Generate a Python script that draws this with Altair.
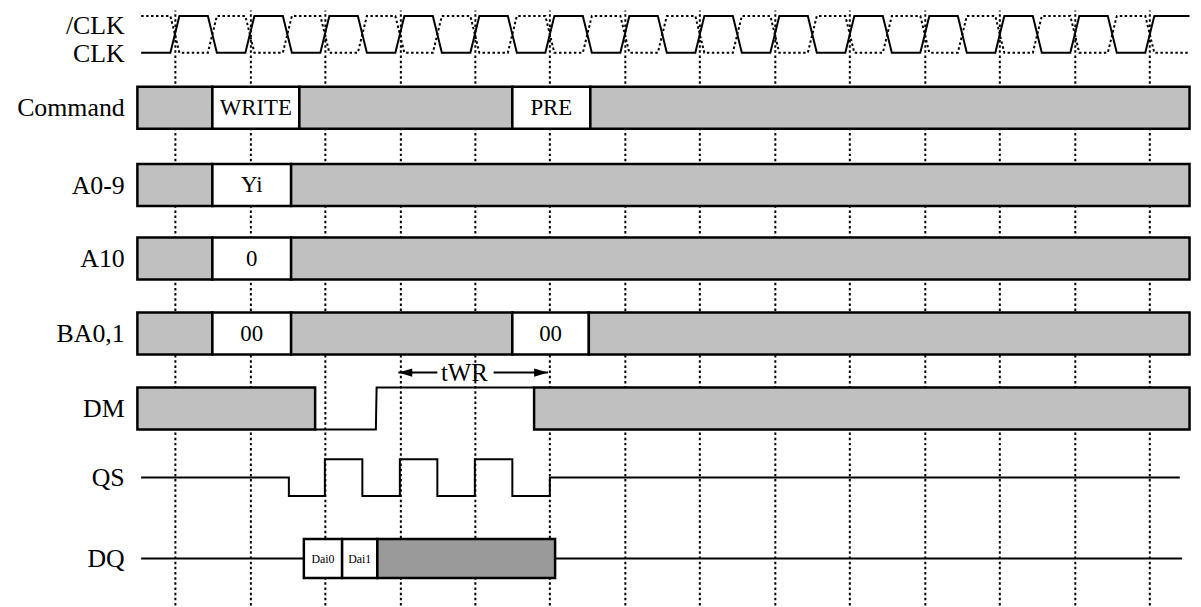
import altair as alt
import pandas as pd

# ---------------- data (time in clock periods, rows in row units) ----------------
ROW_NAMES = ["CLK", "Command", "A0-9", "A10", "BA0,1", "DM", "QS", "DQ"]
ROW_Y = [0.0, 0.98, 2.01, 2.99, 3.99, 4.99, 5.91, 6.99]
ROW = dict(zip(ROW_NAMES, ROW_Y))

LABELS = ["/CLK", "CLK", "Command", "A0-9", "A10", "BA0,1", "DM", "QS", "DQ"]
LABEL_Y = [-0.12, 0.25, 0.98, 2.01, 2.99, 3.99, 4.99, 5.91, 6.99]

CLK_RISE = [0, 1, 2, 3, 4, 5, 6, 7, 8, 9, 10, 11, 12, 13]
CLK_FALL = [0.5, 1.5, 2.5, 3.5, 4.5, 5.5, 6.5, 7.5, 8.5, 9.5, 10.5, 11.5, 12.5]
CLK_START = -0.45
CLK_END = 13.53

BUS_ROW = ["Command"] * 5 + ["A0-9"] * 3 + ["A10"] * 3 + ["BA0,1"] * 5 + ["DM"] * 2
BUS_START = [-0.5, 0.5, 1.66, 4.5, 5.54,
             -0.5, 0.5, 1.55,
             -0.5, 0.5, 1.55,
             -0.5, 0.5, 1.55, 4.5, 5.52,
             -0.5, 4.79]
BUS_END = [0.5, 1.66, 4.5, 5.54, 13.53,
           0.5, 1.55, 13.53,
           0.5, 1.55, 13.53,
           0.5, 1.55, 4.5, 5.52, 13.53,
           1.87, 13.53]
BUS_TEXT = ["", "WRITE", "", "PRE", "",
            "", "Yi", "",
            "", "0", "",
            "", "00", "", "00", "",
            "", ""]

DM_LINE_T = [1.87, 2.68, 2.69, 4.79]
DM_LINE_LEVEL = ["low", "low", "high", "high"]

QS_EDGE_T = [-0.45, 1.52, 2.0, 2.5, 3.0, 3.5, 4.0, 4.5, 5.0]
QS_LEVEL = ["mid", "low", "high", "low", "high", "low", "high", "low", "mid"]
QS_END = 13.4

DQ_LINE_START = [-0.45, 5.07]
DQ_LINE_END = [1.72, 13.43]
DQ_START = [1.72, 2.23, 2.70]
DQ_END = [2.23, 2.70, 5.07]
DQ_TEXT = ["Dai0", "Dai1", ""]
DQ_STATE = ["v", "v", "h"]

TWR_FROM = 2.98
TWR_TO = 4.976
TWR_GAP = [3.5, 4.25]
TWR_Y = 4.51
TWR_TEXT_T = 3.86

# ---------------- styling constants ----------------
BUS_HALF = 0.28
DQ_HALF = 0.26
SWING = 0.245
EDGE = 0.06
FONT = "Liberation Serif"

# ---------------- build tables ----------------
rects = []
for r, a, b, txt in zip(BUS_ROW, BUS_START, BUS_END, BUS_TEXT):
    c = ROW[r]
    rects.append(dict(t0=a, t1=b, y0=c - BUS_HALF, y1=c + BUS_HALF,
                      state="v" if txt else "x", text=txt, tm=(a + b) / 2, yc=c))
for a, b, txt, st in zip(DQ_START, DQ_END, DQ_TEXT, DQ_STATE):
    c = ROW["DQ"]
    rects.append(dict(t0=a, t1=b, y0=c - DQ_HALF, y1=c + DQ_HALF,
                      state=st, text=txt, tm=(a + b) / 2, yc=c))
rect_df = pd.DataFrame(rects)
bus_text_df = rect_df[(rect_df["text"] != "") & (~rect_df["text"].str.startswith("Dai"))]
dq_text_df = rect_df[rect_df["text"].str.startswith("Dai")]

lines = []


def add(series, pts):
    for i, (t, y) in enumerate(pts):
        lines.append(dict(series=series, idx=i, t=t, y=y))


def clock_points(invert):
    hi, lo = ROW["CLK"] - SWING, ROW["CLK"] + SWING
    if invert:
        hi, lo = lo, hi
    pts = [(CLK_START, lo)]
    edges = sorted([(e, "r") for e in CLK_RISE] + [(e, "f") for e in CLK_FALL])
    level = lo
    for e, kind in edges:
        new = hi if kind == "r" else lo
        pts.append((e - EDGE, level))
        pts.append((e + EDGE, new))
        level = new
    pts.append((CLK_END, level))
    return pts


clk_df = pd.DataFrame([dict(series="CLK", idx=i, t=t, y=y)
                       for i, (t, y) in enumerate(clock_points(False))])
nclk_df = pd.DataFrame([dict(series="/CLK", idx=i, t=t, y=y)
                        for i, (t, y) in enumerate(clock_points(True))])

lvl = {"high": -SWING, "low": SWING, "mid": 0.0}
qs_pts = []
for i, (t, l) in enumerate(zip(QS_EDGE_T, QS_LEVEL)):
    y = ROW["QS"] + lvl[l]
    if i > 0:
        qs_pts.append((t, qs_pts[-1][1]))
    qs_pts.append((t, y))
qs_pts.append((QS_END, qs_pts[-1][1]))
add("QS", qs_pts)

dm_lvl = {"high": ROW["DM"] - BUS_HALF, "low": ROW["DM"] + BUS_HALF}
add("DM", [(t, dm_lvl[l]) for t, l in zip(DM_LINE_T, DM_LINE_LEVEL)])

for k, (a, b) in enumerate(zip(DQ_LINE_START, DQ_LINE_END)):
    add(f"DQ{k}", [(a, ROW["DQ"]), (b, ROW["DQ"])])

add("tWR_l", [(TWR_FROM, TWR_Y), (TWR_GAP[0], TWR_Y)])
add("tWR_r", [(TWR_GAP[1], TWR_Y), (TWR_TO, TWR_Y)])
line_df = pd.DataFrame(lines)

arrow_l = pd.DataFrame([dict(t=TWR_FROM, y=TWR_Y)])
arrow_r = pd.DataFrame([dict(t=TWR_TO, y=TWR_Y)])
twr_df = pd.DataFrame([dict(t=TWR_TEXT_T, y=TWR_Y, text="tWR")])

# ---------------- scales & axes ----------------
X_SCALE = alt.Scale(domain=[-2.2252, 13.5762], nice=False, zero=False)
Y_SCALE = alt.Scale(domain=[-0.3245, 7.609], nice=False, zero=False, reverse=True)

label_expr = "''"
for name, v in reversed(list(zip(LABELS, LABEL_Y))):
    label_expr = f"datum.value == {v} ? '{name}' : ({label_expr})"

X_AXIS = alt.Axis(values=CLK_RISE, grid=True, gridColor="black", gridDash=[2.5, 2.7],
                  gridWidth=2, gridOpacity=1, labels=False, ticks=False, domain=False,
                  title=None)
Y_AXIS = alt.Axis(values=LABEL_Y, labelExpr=label_expr, orient="left", offset=-121,
                  domain=False, ticks=False, tickSize=0, grid=False, labelFont=FONT,
                  labelFontSize=26, labelColor="black", labelPadding=4,
                  labelOverlap=False, labelBaseline="middle", labelAlign="right",
                  title=None)


def X(f):
    return alt.X(f, scale=X_SCALE, axis=X_AXIS)


def Y(f):
    return alt.Y(f, scale=Y_SCALE, axis=Y_AXIS)


boxes = alt.Chart(rect_df).mark_rect(stroke="black", strokeWidth=2.5).encode(
    x=X("t0:Q"), x2="t1:Q", y=Y("y0:Q"), y2="y1:Q",
    fill=alt.Fill("state:N", legend=None,
                  scale=alt.Scale(domain=["x", "v", "h"],
                                  range=["#c0c0c0", "#ffffff", "#9a9a9a"])),
)

solid = alt.Chart(line_df).mark_line(color="black", strokeWidth=2).encode(
    x=X("t:Q"), y=Y("y:Q"), detail="series:N", order="idx:Q")

clk = alt.Chart(clk_df).mark_line(color="black", strokeWidth=2).encode(
    x=X("t:Q"), y=Y("y:Q"), order="idx:Q")

nclk = alt.Chart(nclk_df).mark_line(color="black", strokeWidth=2,
                                    strokeDash=[2.5, 2.5]).encode(
    x=X("t:Q"), y=Y("y:Q"), order="idx:Q")

bus_text = alt.Chart(bus_text_df).mark_text(font=FONT, fontSize=23, color="black",
                                            baseline="middle", align="center").encode(
    x=X("tm:Q"), y=Y("yc:Q"), text="text:N")

dq_text = alt.Chart(dq_text_df).mark_text(font=FONT, fontSize=12, color="black",
                                          baseline="middle", align="center").encode(
    x=X("tm:Q"), y=Y("yc:Q"), text="text:N")

twr_text = alt.Chart(twr_df).mark_text(font=FONT, fontSize=25, color="black",
                                       baseline="middle", align="center").encode(
    x=X("t:Q"), y=Y("y:Q"), text="text:N")

head_l = alt.Chart(arrow_l).mark_point(shape="M0,0L2,-0.6L2,0.6Z", filled=True,
                                       color="black", opacity=1, size=196).encode(
    x=X("t:Q"), y=Y("y:Q"))
head_r = alt.Chart(arrow_r).mark_point(shape="M0,0L-2,-0.6L-2,0.6Z", filled=True,
                                       color="black", opacity=1, size=196).encode(
    x=X("t:Q"), y=Y("y:Q"))

chart = alt.layer(boxes, solid, clk, nclk, bus_text, dq_text, twr_text, head_l, head_r).properties(
    width=1193, height=599,
    autosize=alt.AutoSizeParams(type="none"),
    padding=0,
    background="white",
).configure_view(stroke=None)

chart.save("out.html", embed_options={"renderer": "svg", "actions": False})
